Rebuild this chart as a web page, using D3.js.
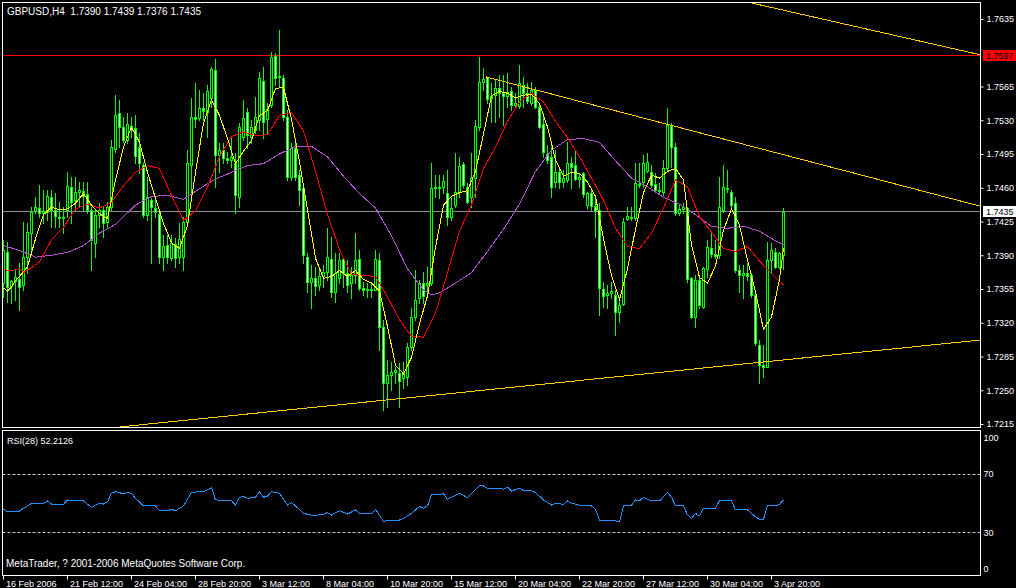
<!DOCTYPE html>
<html><head><meta charset="utf-8">
<script src="https://cdn.jsdelivr.net/npm/d3@7"></script>
<style>
html,body{margin:0;padding:0;background:#000;overflow:hidden}
svg text{font-family:"Liberation Sans",Arial,sans-serif;font-size:9px;fill:#fff;white-space:pre}
svg text.big{font-size:10px}
</style>
</head><body>
<svg id="c" width="1016" height="588"></svg>
<script>
// ---------------- DATA ----------------
const titleText = "GBPUSD,H4  1.7390 1.7439 1.7376 1.7435";
const rsiTitle = "RSI(28) 52.2126";
const copyrightText = "MetaTrader, ? 2001-2006 MetaQuotes Software Corp.";

const opens = [1.7361,1.7393,1.7358,1.7363,1.7365,1.7359,1.7388,1.7413,1.7436,1.7439,
1.7434,1.7435,1.7450,1.7437,1.7430,1.7429,1.7437,1.7461,1.7447,1.7456,
1.7457,1.7454,1.7437,1.7403,1.7432,1.7437,1.7424,1.7440,1.7500,1.7538,
1.7523,1.7510,1.7524,1.7522,1.7502,1.7484,1.7432,1.7447,1.7439,1.7433,
1.7388,1.7401,1.7387,1.7402,1.7388,1.7388,1.7424,1.7484,1.7533,1.7532,
1.7543,1.7539,1.7553,1.7582,1.7494,1.7499,1.7491,1.7489,1.7486,1.7450,
1.7513,1.7539,1.7513,1.7520,1.7530,1.7571,1.7531,1.7546,1.7597,1.7575,
1.7574,1.7533,1.7471,1.7501,1.7473,1.7460,1.7388,1.7362,1.7366,1.7359,
1.7368,1.7373,1.7386,1.7352,1.7366,1.7386,1.7372,1.7361,1.7370,1.7386,
1.7356,1.7354,1.7355,1.7354,1.7385,1.7316,1.7258,1.7266,1.7269,1.7268,
1.7263,1.7264,1.7295,1.7326,1.7346,1.7361,1.7359,1.7361,1.7460,1.7461,
1.7461,1.7455,1.7430,1.7442,1.7456,1.7485,1.7461,1.7450,1.7470,1.7523,
1.7570,1.7575,1.7553,1.7556,1.7563,1.7558,1.7555,1.7560,1.7546,1.7545,
1.7567,1.7558,1.7548,1.7561,1.7544,1.7526,1.7495,1.7492,1.7466,1.7476,
1.7466,1.7468,1.7486,1.7484,1.7469,1.7475,1.7442,1.7455,1.7441,1.7437,
1.7355,1.7349,1.7351,1.7349,1.7331,1.7339,1.7428,1.7430,1.7429,1.7464,
1.7466,1.7477,1.7476,1.7464,1.7458,1.7456,1.7480,1.7524,1.7502,1.7434,
1.7438,1.7439,1.7366,1.7326,1.7364,1.7336,1.7376,1.7398,1.7391,1.7390,
1.7437,1.7460,1.7456,1.7444,1.7375,1.7370,1.7372,1.7370,1.7349,1.7297,
1.7276,1.7274,1.7385,1.7393,1.7378,1.7390];

const highs = [1.7406,1.7404,1.7364,1.7375,1.7382,1.7424,1.7423,1.7440,1.7450,1.7463,
1.7458,1.7458,1.7458,1.7455,1.7445,1.7440,1.7476,1.7471,1.7471,1.7466,
1.7466,1.7466,1.7440,1.7437,1.7444,1.7440,1.7445,1.7510,1.7556,1.7551,
1.7533,1.7538,1.7533,1.7535,1.7517,1.7486,1.7471,1.7449,1.7449,1.7437,
1.7411,1.7411,1.7411,1.7408,1.7423,1.7430,1.7499,1.7553,1.7569,1.7561,
1.7558,1.7567,1.7585,1.7594,1.7506,1.7506,1.7497,1.7513,1.7496,1.7527,
1.7551,1.7543,1.7530,1.7554,1.7580,1.7585,1.7548,1.7601,1.7600,1.7624,
1.7577,1.7541,1.7506,1.7506,1.7478,1.7461,1.7392,1.7380,1.7378,1.7378,
1.7380,1.7418,1.7409,1.7392,1.7392,1.7388,1.7385,1.7378,1.7413,1.7395,
1.7362,1.7361,1.7362,1.7395,1.7392,1.7323,1.7281,1.7279,1.7274,1.7278,
1.7279,1.7299,1.7335,1.7375,1.7364,1.7373,1.7378,1.7486,1.7473,1.7473,
1.7473,1.7478,1.7450,1.7496,1.7492,1.7487,1.7465,1.7496,1.7530,1.7596,
1.7584,1.7575,1.7569,1.7572,1.7577,1.7577,1.7579,1.7564,1.7558,1.7587,
1.7575,1.7569,1.7570,1.7564,1.7548,1.7538,1.7504,1.7502,1.7499,1.7480,
1.7478,1.7507,1.7492,1.7499,1.7475,1.7476,1.7456,1.7458,1.7450,1.7444,
1.7362,1.7359,1.7362,1.7354,1.7347,1.7429,1.7440,1.7440,1.7486,1.7486,
1.7494,1.7496,1.7484,1.7475,1.7465,1.7489,1.7543,1.7527,1.7506,1.7442,
1.7444,1.7440,1.7367,1.7369,1.7367,1.7378,1.7406,1.7413,1.7406,1.7471,
1.7484,1.7478,1.7458,1.7450,1.7380,1.7380,1.7382,1.7372,1.7351,1.7302,
1.7297,1.7404,1.7403,1.7398,1.7393,1.7439];

const lows = [1.7347,1.7342,1.7340,1.7344,1.7333,1.7354,1.7372,1.7395,1.7434,1.7430,
1.7423,1.7427,1.7419,1.7419,1.7419,1.7413,1.7430,1.7423,1.7437,1.7440,
1.7437,1.7434,1.7375,1.7388,1.7419,1.7409,1.7419,1.7437,1.7497,1.7502,
1.7507,1.7506,1.7513,1.7486,1.7475,1.7430,1.7427,1.7382,1.7430,1.7382,
1.7375,1.7382,1.7385,1.7378,1.7382,1.7375,1.7421,1.7447,1.7523,1.7530,
1.7530,1.7513,1.7544,1.7461,1.7476,1.7486,1.7486,1.7482,1.7434,1.7440,
1.7510,1.7501,1.7506,1.7517,1.7520,1.7512,1.7517,1.7544,1.7567,1.7564,
1.7530,1.7468,1.7468,1.7468,1.7442,1.7382,1.7352,1.7335,1.7349,1.7354,
1.7357,1.7364,1.7347,1.7342,1.7361,1.7357,1.7352,1.7346,1.7361,1.7354,
1.7349,1.7347,1.7347,1.7354,1.7292,1.7230,1.7233,1.7250,1.7258,1.7233,
1.7252,1.7255,1.7292,1.7323,1.7340,1.7340,1.7347,1.7359,1.7450,1.7449,
1.7455,1.7421,1.7427,1.7440,1.7450,1.7461,1.7444,1.7440,1.7450,1.7520,
1.7561,1.7548,1.7528,1.7528,1.7533,1.7525,1.7544,1.7541,1.7543,1.7543,
1.7544,1.7548,1.7546,1.7543,1.7522,1.7492,1.7486,1.7450,1.7461,1.7460,
1.7461,1.7466,1.7460,1.7468,1.7461,1.7450,1.7439,1.7437,1.7409,1.7328,
1.7336,1.7335,1.7346,1.7307,1.7321,1.7338,1.7427,1.7427,1.7427,1.7461,
1.7461,1.7476,1.7461,1.7456,1.7455,1.7452,1.7478,1.7482,1.7432,1.7432,
1.7434,1.7362,1.7325,1.7316,1.7335,1.7335,1.7367,1.7388,1.7387,1.7387,
1.7435,1.7456,1.7440,1.7373,1.7352,1.7346,1.7364,1.7347,1.7297,1.7258,
1.7264,1.7274,1.7372,1.7377,1.7377,1.7376];

const closes = [1.7395,1.7357,1.7363,1.7367,1.7357,1.7388,1.7414,1.7435,1.7440,1.7434,
1.7436,1.7451,1.7437,1.7431,1.7429,1.7430,1.7462,1.7445,1.7456,1.7458,
1.7451,1.7437,1.7406,1.7432,1.7437,1.7423,1.7440,1.7502,1.7535,1.7523,
1.7510,1.7526,1.7520,1.7493,1.7486,1.7432,1.7450,1.7440,1.7435,1.7388,
1.7400,1.7388,1.7403,1.7387,1.7407,1.7424,1.7486,1.7533,1.7531,1.7543,
1.7540,1.7560,1.7583,1.7494,1.7499,1.7491,1.7489,1.7492,1.7452,1.7523,
1.7532,1.7515,1.7523,1.7533,1.7574,1.7528,1.7542,1.7596,1.7574,1.7576,
1.7533,1.7471,1.7501,1.7471,1.7458,1.7390,1.7362,1.7366,1.7358,1.7368,
1.7373,1.7388,1.7352,1.7372,1.7385,1.7372,1.7359,1.7370,1.7385,1.7356,
1.7354,1.7355,1.7354,1.7386,1.7316,1.7258,1.7266,1.7269,1.7271,1.7260,
1.7269,1.7295,1.7326,1.7344,1.7361,1.7348,1.7361,1.7460,1.7461,1.7460,
1.7467,1.7430,1.7439,1.7456,1.7483,1.7463,1.7445,1.7470,1.7524,1.7570,
1.7573,1.7552,1.7555,1.7563,1.7558,1.7555,1.7559,1.7546,1.7548,1.7569,
1.7558,1.7550,1.7561,1.7544,1.7523,1.7497,1.7489,1.7461,1.7476,1.7466,
1.7470,1.7486,1.7482,1.7469,1.7471,1.7454,1.7455,1.7441,1.7436,1.7356,
1.7348,1.7351,1.7353,1.7331,1.7338,1.7424,1.7431,1.7429,1.7465,1.7463,
1.7486,1.7487,1.7463,1.7458,1.7457,1.7480,1.7525,1.7502,1.7434,1.7438,
1.7440,1.7365,1.7326,1.7364,1.7338,1.7377,1.7399,1.7391,1.7389,1.7440,
1.7461,1.7459,1.7442,1.7375,1.7370,1.7372,1.7368,1.7349,1.7299,1.7276,
1.7274,1.7385,1.7395,1.7378,1.7392,1.7435];

// moving averages: [bar index, price]
const maFast = [[0,1.7356],[1,1.7353],[2,1.7357],[3,1.7364],[4,1.7368],[6,1.7378],[8,1.7407],[10,1.7432],[12,1.7440],[14,1.7437],[16,1.7438],[18,1.7444],[20,1.7454],[22,1.7442],[24,1.7433],[26,1.7428],[28,1.7468],[30,1.7502],[32,1.7523],[34,1.7507],[36,1.7476],[38,1.7449],[40,1.7423],[42,1.7403],[44,1.7397],[46,1.7421],[48,1.7476],[50,1.7527],[52,1.7551],[54,1.7535],[56,1.7511],[58,1.7485],[60,1.7498],[62,1.7509],[64,1.7535],[66,1.7540],[68,1.7563],[70,1.7564],[72,1.7531],[74,1.7487],[76,1.7437],[78,1.7387],[80,1.7366],[82,1.7368],[84,1.7374],[86,1.7368],[88,1.7374],[90,1.7365],[92,1.7361],[94,1.7353],[96,1.7316],[98,1.7276],[100,1.7267],[102,1.7284],[104,1.7319],[106,1.7348],[108,1.7398],[110,1.7442],[112,1.7451],[114,1.7455],[116,1.7457],[118,1.7477],[120,1.7516],[122,1.7555],[124,1.7560],[126,1.7558],[128,1.7553],[130,1.7556],[132,1.7557],[134,1.7547],[136,1.7523],[138,1.7489],[140,1.7472],[142,1.7476],[144,1.7475],[146,1.7466],[148,1.7451],[150,1.7407],[152,1.7369],[154,1.7344],[156,1.7376],[158,1.7417],[160,1.7455],[162,1.7473],[164,1.7470],[166,1.7477],[168,1.7480],[170,1.7468],[172,1.7401],[174,1.7367],[176,1.7361],[178,1.7379],[180,1.7416],[182,1.7438],[184,1.7421],[186,1.7385],[188,1.7352],[190,1.7313],[192,1.7326],[194,1.7365],[195,1.7397]];

const maMid = [[0,1.7375],[2,1.7374],[4,1.7376],[5,1.7372],[7,1.7377],[9,1.7383],[12,1.7406],[15,1.7419],[18,1.7438],[21,1.7443],[24,1.7439],[27,1.7445],[30,1.7462],[33,1.7476],[36,1.7483],[39,1.7480],[42,1.7452],[45,1.7426],[48,1.7436],[51,1.7461],[54,1.7492],[57,1.7513],[60,1.7518],[63,1.7514],[66,1.7515],[69,1.7535],[72,1.7538],[75,1.7519],[78,1.7477],[81,1.7432],[84,1.7396],[87,1.7370],[90,1.7369],[93,1.7368],[96,1.7347],[99,1.7323],[102,1.7306],[105,1.7305],[108,1.7330],[111,1.7372],[114,1.7415],[117,1.7442],[120,1.7480],[123,1.7502],[126,1.7529],[129,1.7549],[132,1.7558],[135,1.7549],[138,1.7529],[141,1.7512],[144,1.7492],[147,1.7470],[150,1.7447],[153,1.7418],[156,1.7399],[159,1.7397],[162,1.7413],[165,1.7439],[168,1.7468],[171,1.7461],[174,1.7430],[177,1.7414],[180,1.7397],[183,1.7394],[186,1.7399],[189,1.7384],[192,1.7371],[195,1.7359]];

const maSlow = [[0,1.7400],[4,1.7395],[8,1.7388],[12,1.7390],[16,1.7393],[20,1.7400],[24,1.7413],[28,1.7422],[33,1.7442],[37,1.7451],[41,1.7452],[45,1.7448],[49,1.7459],[53,1.7469],[57,1.7476],[61,1.7483],[65,1.7485],[69,1.7495],[73,1.7503],[77,1.7503],[81,1.7492],[85,1.7472],[89,1.7454],[93,1.7439],[97,1.7410],[101,1.7376],[105,1.7354],[107,1.7349],[109,1.7351],[113,1.7361],[117,1.7372],[121,1.7394],[125,1.7417],[129,1.7443],[133,1.7477],[137,1.7499],[141,1.7510],[145,1.7511],[149,1.7507],[153,1.7488],[157,1.7470],[161,1.7461],[165,1.7450],[169,1.7443],[173,1.7432],[177,1.7420],[181,1.7418],[185,1.7420],[189,1.7415],[193,1.7405],[195,1.7401]];

// RSI(28): [bar index, value]
const rsiPoints = [[0,45.8],[1,44.1],[4,44.6],[7,49.9],[10,49.9],[11,51.5],[12,49.4],[15,49.2],[16,52.2],[17,51.5],[20,51.5],[22,47.1],[24,49.9],[25,49.4],[26,51.0],[27,56.8],[28,57.9],[30,56.4],[31,57.3],[32,56.8],[33,53.3],[35,48.1],[38,48.1],[39,44.8],[41,44.8],[42,45.8],[43,44.8],[45,48.1],[47,57.3],[49,57.9],[50,57.9],[52,60.6],[53,52.2],[57,51.7],[58,48.5],[59,54.0],[60,54.5],[61,53.3],[63,54.0],[64,57.9],[65,54.0],[66,54.9],[67,57.9],[69,56.8],[71,48.7],[72,50.3],[73,48.1],[75,43.0],[78,41.2],[79,42.3],[80,42.5],[81,43.5],[82,41.9],[84,44.8],[86,42.5],[88,45.4],[89,43.0],[92,43.0],[93,45.8],[95,37.3],[96,38.4],[99,38.4],[100,39.5],[102,43.0],[103,45.4],[104,47.6],[105,46.6],[106,48.1],[107,55.6],[110,56.4],[111,52.6],[112,54.0],[114,56.8],[116,53.8],[117,56.4],[119,62.0],[120,61.8],[121,60.2],[124,60.2],[125,59.6],[126,61.0],[127,58.3],[129,60.2],[130,58.6],[132,58.6],[133,57.3],[135,52.2],[137,48.7],[138,49.9],[140,49.2],[141,51.5],[142,49.9],[144,48.7],[147,48.1],[148,45.8],[149,38.4],[152,38.4],[154,37.3],[155,48.1],[157,48.7],[158,52.2],[159,51.5],[160,54.0],[162,51.5],[164,51.5],[166,57.4],[167,54.0],[168,48.3],[170,48.3],[171,42.0],[172,39.5],[173,43.0],[174,41.4],[175,46.6],[178,46.6],[179,51.7],[182,51.7],[183,45.4],[186,45.4],[187,43.0],[188,40.7],[189,38.9],[190,38.9],[191,48.7],[193,48.1],[194,49.2],[195,52.2]];

const priceTicks = [1.7635,1.7565,1.7530,1.7495,1.7460,1.7425,1.7390,1.7355,1.7320,1.7285,1.7250,1.7215];
const rsiTicks = [100,70,30,0];
const rsiLevels = [70,30];
const timeTickBars = [0,16,32,48,64,80,96,112,128,144,160,176,192];
const timeTickLabels = ["16 Feb 2006","21 Feb 12:00","24 Feb 04:00","28 Feb 20:00","3 Mar 12:00","8 Mar 04:00","10 Mar 20:00","15 Mar 12:00","20 Mar 04:00","22 Mar 20:00","27 Mar 12:00","30 Mar 04:00","3 Apr 20:00"];

// trend lines: [bar index, price] end points
const trendLines = [
  [[186.6,1.7652],[244.1,1.7598]],
  [[120.6,1.7575],[244.1,1.7441]],
  [[29.1,1.7212],[244.1,1.7302]]
];
const alertLevel = 1.7597;   // red horizontal line
const bidLevel = 1.7435;     // grey bid line

// ---------------- LAYOUT ----------------
const svg = d3.select("#c");
const L = 2.5, R = 980.5, mainT = 2.5, mainB = 427.5, rsiT = 430.5, rsiB = 575.5;

const x = d3.scaleLinear().domain([0, 195]).range([3.5, 783.5]);
const y = d3.scaleLinear().domain([1.7635, 1.7215]).range([19, 424]);
const ry = d3.scaleLinear().domain([0, 100]).range([576, 430.3]);

svg.append("rect").attr("width",1016).attr("height",588).attr("fill","#000");

svg.append("clipPath").attr("id","mainclip").append("rect")
  .attr("x",L).attr("y",mainT).attr("width",R-L).attr("height",mainB-mainT);
svg.append("clipPath").attr("id","rsiclip").append("rect")
  .attr("x",L).attr("y",rsiT).attr("width",R-L).attr("height",rsiB-rsiT);

// horizontal lines
const hl = svg.append("g").attr("clip-path","url(#mainclip)");
hl.append("line").attr("x1",L).attr("x2",R)
  .attr("y1",Math.round(y(alertLevel))-0.5).attr("y2",Math.round(y(alertLevel))-0.5)
  .attr("stroke","#ff0000");
hl.append("line").attr("x1",L).attr("x2",R)
  .attr("y1",Math.round(y(bidLevel))-0.5).attr("y2",Math.round(y(bidLevel))-0.5)
  .attr("stroke","#8c8c96");

// candles
const bars = opens.map((o,i)=>({i,o,h:highs[i],l:lows[i],c:closes[i]}));
const cg = svg.append("g").attr("clip-path","url(#mainclip)");
cg.selectAll("line.wick").data(bars).join("line").attr("class","wick")
  .attr("x1",d=>x(d.i)).attr("x2",d=>x(d.i))
  .attr("y1",d=>Math.round(y(d.h))).attr("y2",d=>Math.round(y(d.l))+1)
  .attr("stroke","#00ff00").attr("stroke-width",1);
const bodyBars = bars.filter(d=>Math.round(y(d.o))!==Math.round(y(d.c)));
cg.selectAll("rect.body").data(bodyBars).join("rect").attr("class","body")
  .attr("x",d=>x(d.i)-1).attr("width",2)
  .attr("y",d=>Math.round(Math.min(y(d.o),y(d.c)))+0.5)
  .attr("height",d=>Math.round(Math.max(y(d.o),y(d.c)))-Math.round(Math.min(y(d.o),y(d.c))))
  .attr("fill",d=>d.c>=d.o?"#000":"#fff")
  .attr("stroke","#00ff00").attr("stroke-width",1);
const dojis = bars.filter(d=>Math.round(y(d.o))===Math.round(y(d.c)));
cg.selectAll("line.doji").data(dojis).join("line").attr("class","doji")
  .attr("x1",d=>x(d.i)-1.5).attr("x2",d=>x(d.i)+1.5)
  .attr("y1",d=>Math.round(y(d.c))+0.5).attr("y2",d=>Math.round(y(d.c))+0.5)
  .attr("stroke","#00ff00");

// moving averages
const maLine = d3.line().x(d=>x(d[0])).y(d=>y(d[1]));
const mg = svg.append("g").attr("clip-path","url(#mainclip)").attr("fill","none").attr("shape-rendering","crispEdges");
mg.append("path").attr("d",maLine(maSlow)).attr("stroke","#b44fd2").attr("stroke-width",1);
mg.append("path").attr("d",maLine(maMid)).attr("stroke","#ff0000").attr("stroke-width",1);
mg.append("path").attr("d",maLine(maFast)).attr("stroke","#ffff00").attr("stroke-width",1);

// trend lines
mg.selectAll("line.trend").data(trendLines).join("line").attr("class","trend")
  .attr("x1",d=>x(d[0][0])).attr("y1",d=>y(d[0][1]))
  .attr("x2",d=>x(d[1][0])).attr("y2",d=>y(d[1][1]))
  .attr("stroke","#ffc800").attr("stroke-width",1);

// RSI panel
const rg = svg.append("g").attr("clip-path","url(#rsiclip)");
rg.selectAll("line.lvl").data(rsiLevels).join("line").attr("class","lvl")
  .attr("x1",L).attr("x2",R)
  .attr("y1",d=>Math.round(ry(d))+0.5).attr("y2",d=>Math.round(ry(d))+0.5)
  .attr("stroke","#c8c8c8").attr("stroke-dasharray","3,2");
rg.append("path").attr("d",d3.line().x(d=>x(d[0])).y(d=>ry(d[1]))(rsiPoints))
  .attr("fill","none").attr("stroke","#1e90ff").attr("stroke-width",1).attr("shape-rendering","crispEdges");

// frames
const fg = svg.append("g").attr("fill","none").attr("stroke","#fff").attr("stroke-width",1);
fg.append("rect").attr("x",L).attr("y",mainT).attr("width",R-L).attr("height",mainB-mainT);
fg.append("rect").attr("x",L).attr("y",rsiT).attr("width",R-L).attr("height",rsiB-rsiT);

// price axis
const pa = svg.append("g").attr("transform",`translate(${R},0)`)
  .call(d3.axisRight(y).tickValues(priceTicks).tickFormat(d3.format(".4f")).tickSize(3).tickPadding(3).tickSizeOuter(0));
pa.attr("font-family",null).attr("font-size",null);
pa.select(".domain").remove();
pa.selectAll(".tick line").attr("stroke","#fff");
pa.selectAll(".tick text").attr("fill","#fff");

// price label boxes
const boxes = [{p:alertLevel,bg:"#ff0000"},{p:bidLevel,bg:"#ffffff"}];
const bg = svg.append("g");
bg.selectAll("rect").data(boxes).join("rect")
  .attr("x",983).attr("y",d=>Math.round(y(d.p))-6).attr("width",33).attr("height",11)
  .attr("fill",d=>d.bg);
bg.selectAll("text").data(boxes).join("text")
  .attr("x",986).attr("y",d=>Math.round(y(d.p))+3.2)
  .style("fill","#000").text(d=>d3.format(".4f")(d.p));

// RSI axis
const ra = svg.append("g").attr("transform",`translate(${R},0)`)
  .call(d3.axisRight(ry).tickValues(rsiTicks).tickSize(0).tickPadding(3).tickSizeOuter(0));
ra.attr("font-family",null).attr("font-size",null);
ra.select(".domain").remove();
ra.selectAll(".tick text").attr("fill","#fff")
  .attr("y",d=>d===100?7:(d===0?-7:0));

// time axis
const ta = svg.append("g").attr("transform",`translate(0,${rsiB})`)
  .call(d3.axisBottom(x).tickValues(timeTickBars).tickFormat((d,i)=>timeTickLabels[i]).tickSize(4).tickSizeOuter(0).offset(0));
ta.attr("font-family",null).attr("font-size",null);
ta.select(".domain").remove();
ta.selectAll(".tick line").attr("stroke","#fff");
ta.selectAll(".tick text").attr("fill","#fff").attr("text-anchor","start")
  .attr("x",2.5).attr("y",11.5).attr("dy",null);

// texts
svg.append("text").attr("class","big").attr("x",7).attr("y",15).attr("xml:space","preserve").text(titleText);
svg.append("text").attr("x",7).attr("y",444).text(rsiTitle);
svg.append("text").attr("class","big").attr("x",6).attr("y",567).text(copyrightText);
</script>
</body></html>
